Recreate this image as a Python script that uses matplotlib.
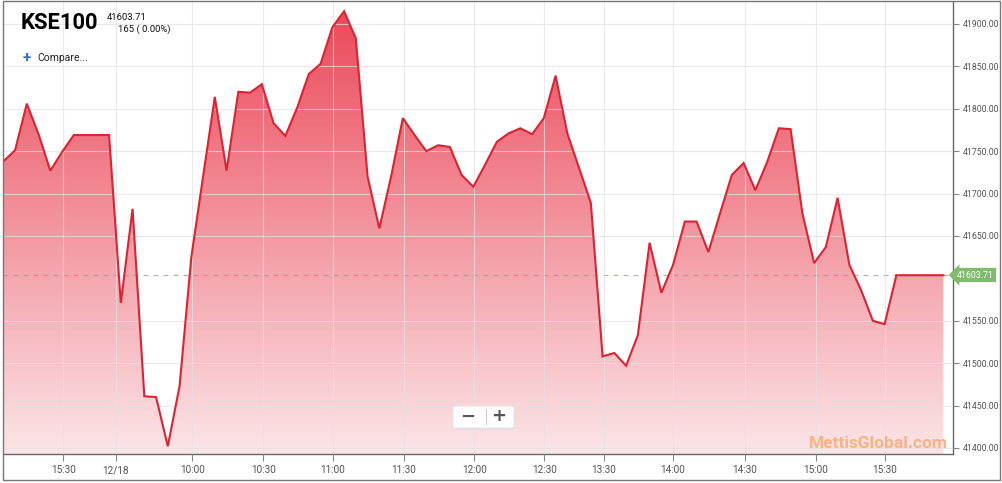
import numpy as np
import matplotlib
matplotlib.use('Agg')
import matplotlib.pyplot as plt
from matplotlib.colors import LinearSegmentedColormap
from matplotlib.patches import Polygon, FancyBboxPatch, Rectangle

# ---------------- data ----------------
values = [41738, 41751, 41806, 41770, 41727, 41749, 41769, 41769, 41769, 41769,
          41571, 41682, 41461, 41460, 41402, 41473, 41625, 41720, 41814, 41727,
          41820, 41819, 41829, 41783, 41768, 41801, 41841, 41853, 41896, 41915,
          41883, 41720, 41659, 41720, 41789, 41769, 41750, 41757, 41755, 41722,
          41708, 41734, 41761, 41771, 41777, 41770, 41789, 41839, 41771, 41730,
          41689, 41508, 41512, 41497, 41533, 41642, 41583, 41616, 41667, 41667,
          41631, 41677, 41722, 41736, 41704, 41737, 41777, 41776, 41677, 41618,
          41637, 41695, 41616, 41586, 41550, 41546, 41603.71, 41603.71, 41603.71,
          41603.71, 41603.71]
last_price = 41603.71
change_text = "165 ( 0.00%)"
symbol = "KSE100"
x_tick_pos = [5.12, 9.59, 16.09, 22.13, 28.06, 34.1, 40.09, 46.04, 51.12, 57.0, 63.12, 69.14, 75.04]
x_tick_labels = ["15:30", "12/18", "10:00", "10:30", "11:00", "11:30", "12:00", "12:30",
                 "13:30", "14:00", "14:30", "15:00", "15:30"]
y_ticks = [41400, 41450, 41500, 41550, 41650, 41700, 41750, 41800, 41850, 41900]

W, H = 1003, 483
fig = plt.figure(figsize=(W / 100, H / 100), dpi=100)
fig.patch.set_facecolor('white')
ax = fig.add_axes([3 / W, 1 - 454 / H, 950 / W, 452 / H])

x = np.arange(len(values))
ylo, yhi = 41392.9, 41925.9
xlo, xhi = -0.026, 80.82
ax.set_xlim(xlo, xhi)
ax.set_ylim(ylo, yhi)

# gradient fill under the line
cmap = LinearSegmentedColormap.from_list('g', [(251/255, 229/255, 232/255), (235/255, 70/255, 86/255)])
grad = np.linspace(0, 1, 256).reshape(-1, 1)
im = ax.imshow(grad, extent=[xlo, xhi, ylo, yhi], aspect='auto', cmap=cmap,
               origin='lower', zorder=1, interpolation='bilinear')
verts = [(x[0], ylo)] + list(zip(x, values)) + [(x[-1], ylo)]
poly = Polygon(verts, closed=True, transform=ax.transData, facecolor='none', edgecolor='none')
ax.add_patch(poly)
im.set_clip_path(poly)

# grid
ax.set_xticks(x_tick_pos)
ax.set_xticklabels(x_tick_labels)
ax.set_yticks(y_ticks)
ax.set_yticklabels([f"{v:.2f}" for v in y_ticks])
ax.grid(True, color='#e2e2e2', lw=0.8, alpha=0.7, zorder=2)
ax.set_axisbelow(False)

# last price dashed line
ax.axhline(last_price, color='#97a08c', lw=0.9, ls=(0, (4, 4)), alpha=0.75, zorder=2.5)

# main line
ax.plot(x, values, color='#df2232', lw=1.5, zorder=3, solid_joinstyle='miter')

# axes styling
ax.yaxis.tick_right()
for s in ['left', 'top']:
    ax.spines[s].set_visible(False)
for s in ['right', 'bottom']:
    ax.spines[s].set_color('#666666')
    ax.spines[s].set_linewidth(1)
ax.tick_params(axis='y', length=4, width=0.8, color='#888888', labelsize=6.3,
               labelcolor='#555555', pad=3)
ax.tick_params(axis='x', length=5, width=0.8, color='#888888', labelsize=7.2,
               labelcolor='#555555', pad=3)
for lab in ax.get_xticklabels() + ax.get_yticklabels():
    lab.set_family(['Roboto', 'DejaVu Sans'])

# partially visible first label (cut by the left edge, as in the original)
fig.text(-12 / W, 1 - 467 / H, "15:00", fontsize=7.2, color='#555555', ha='center', va='center',
         family=['Roboto', 'DejaVu Sans'])

# last price tag
fig.text(975 / W, 1 - 275 / H, f"{last_price:.2f}", color='white', fontsize=6.3,
         ha='center', va='center', family=['Roboto', 'DejaVu Sans'], zorder=10,
         bbox=dict(boxstyle='larrow,pad=0.3', fc='#80bb6e', ec='none'))

# header
fig.text(21 / W, 1 - 23 / H, symbol, fontsize=15.8, fontweight='bold', color='black',
         ha='left', va='center', family=['Roboto', 'DejaVu Sans'])
fig.text(107 / W, 1 - 17 / H, f"{last_price:.2f}", fontsize=6.8, color='#111111',
         ha='left', va='center', family=['Roboto', 'DejaVu Sans'])
fig.text(118 / W, 1 - 29 / H, change_text, fontsize=6.8, color='#111111',
         ha='left', va='center', family=['Roboto', 'DejaVu Sans'])
fig.text(27 / W, 1 - 58 / H, "+", fontsize=11, fontweight='bold', color='#2a6fc9',
         ha='center', va='center', family=['Roboto', 'DejaVu Sans'])
fig.text(37 / W, 1 - 58 / H, "Compare...", fontsize=7.5, color='#222222',
         ha='left', va='center', family=['Roboto', 'DejaVu Sans'])

# zoom buttons
shadow = FancyBboxPatch((455 / W, 1 - 430 / H), 60 / W, 22 / H, boxstyle='round,pad=0,rounding_size=0.004',
                        transform=fig.transFigure, fc='#dddddd', ec='none', alpha=0.6, zorder=8)
fig.add_artist(shadow)
box = FancyBboxPatch((453 / W, 1 - 428 / H), 61 / W, 22 / H, boxstyle='round,pad=0,rounding_size=0.004',
                     transform=fig.transFigure, fc='white', ec='#e4e4e4', lw=0.6, zorder=9)
fig.add_artist(box)
fig.text(468 / W, 1 - 417 / H, "−", fontsize=13, fontweight='bold', color='#555555',
         ha='center', va='center', zorder=10, family=['DejaVu Sans'])
fig.text(499 / W, 1 - 416 / H, "+", fontsize=13, fontweight='bold', color='#555555',
         ha='center', va='center', zorder=10, family=['DejaVu Sans'])
fig.add_artist(plt.Line2D([486 / W, 486 / W], [1 - 409 / H, 1 - 424 / H], transform=fig.transFigure,
                          color='#cccccc', lw=0.8, zorder=10))

# watermark
fig.text(878 / W, 1 - 443 / H, "MettisGlobal.com", fontsize=12.5, fontweight='bold',
         color='#f8aa72', alpha=0.85, ha='center', va='center', zorder=10,
         family=['Roboto', 'DejaVu Sans'])

# outer frame
fig.add_artist(Rectangle((3 / W, 1 - 480 / H), 997 / W, 479 / H, transform=fig.transFigure,
                         fill=False, ec='#777777', lw=1, zorder=20))

fig.savefig('out.png', dpi=100)
